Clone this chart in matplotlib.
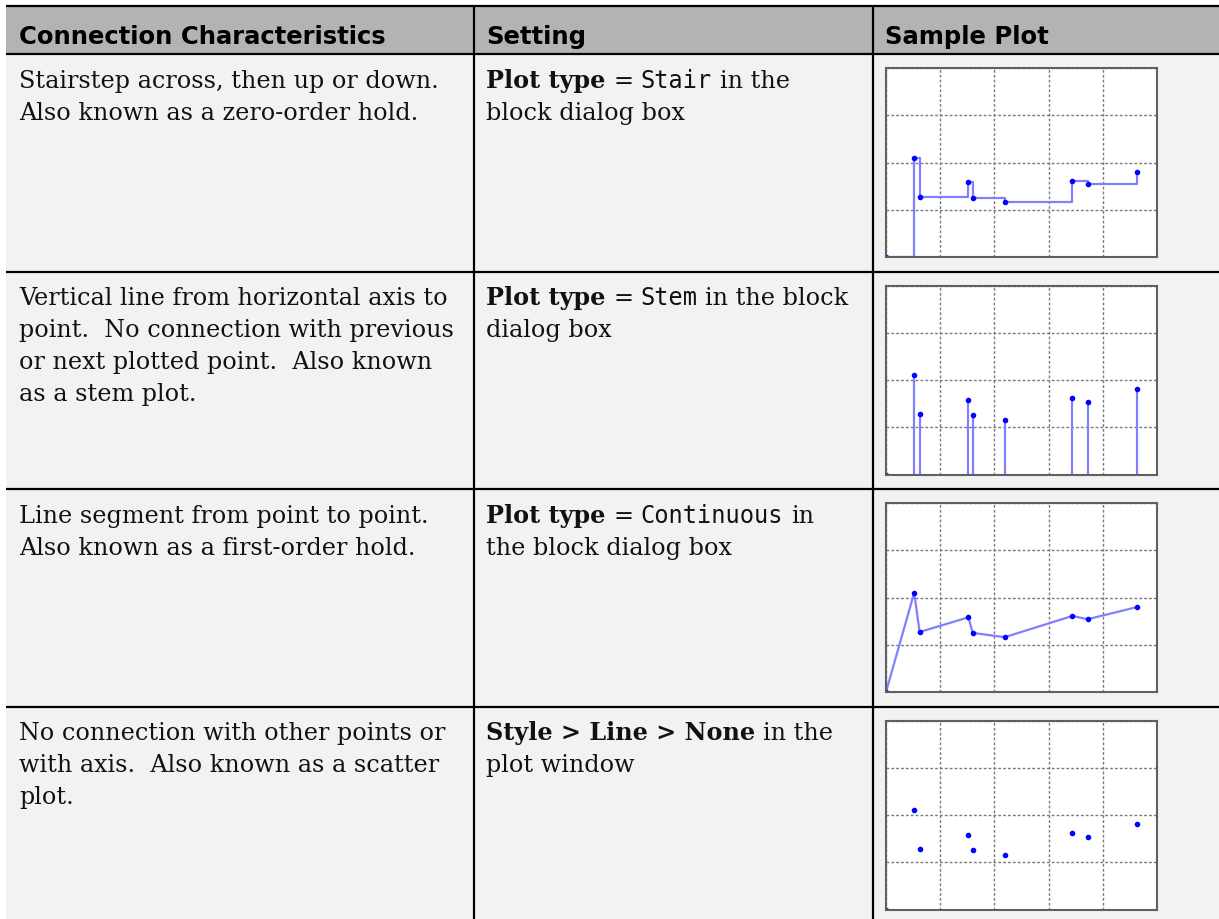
import matplotlib.pyplot as plt
from matplotlib.patches import Rectangle

# ---- table content ----
headers = ["Connection Characteristics", "Setting", "Sample Plot"]

descriptions = [
    ["Stairstep across, then up or down.",
     "Also known as a zero-order hold."],
    ["Vertical line from horizontal axis to",
     "point.  No connection with previous",
     "or next plotted point.  Also known",
     "as a stem plot."],
    ["Line segment from point to point.",
     "Also known as a first-order hold."],
    ["No connection with other points or",
     "with axis.  Also known as a scatter",
     "plot."],
]

# each line is a list of (text, style): b = bold serif, r = serif, m = mono
settings = [
    [[("Plot type", "b"), ("=", "r"), ("Stair", "m"), ("in the", "r")],
     [("block dialog box", "r")]],
    [[("Plot type", "b"), ("=", "r"), ("Stem", "m"), ("in the block", "r")],
     [("dialog box", "r")]],
    [[("Plot type", "b"), ("=", "r"), ("Continuous", "m"), ("in", "r")],
     [("the block dialog box", "r")]],
    [[("Style > Line > None", "b"), ("in the", "r")],
     [("plot window", "r")]],
]

plot_kinds = ["stair", "stem", "continuous", "scatter"]

# sample signal shown in every plot
sample_x = [0, 0.52, 0.62, 1.52, 1.60, 2.19, 3.44, 3.72, 4.64]
sample_y = [0, 2.10, 1.27, 1.58, 1.25, 1.16, 1.61, 1.54, 1.80]

# ---- layout (pixels) ----
W, H, DPI = 1219, 920, 100
LEFT = 6
COL_X = [474, 873]
TOP = 7
HEAD_BOTTOM = 55
ROW_TOPS = [55, 272.5, 490, 707.5]
TEXT_X = [19, 486, 885]
LINE_GAP = 32

HEAD_BG = "#b3b3b3"
BODY_BG = "#f2f2f2"
TXT = "#111111"
LINE_BLUE = "#8080ff"
DOT_BLUE = "#0000ff"

styles = {
    "r": dict(family="DejaVu Serif", fontsize=17.2, color=TXT),
    "b": dict(family="DejaVu Serif", fontsize=17.2, color=TXT, weight="bold"),
    "m": dict(family="DejaVu Sans Mono", fontsize=17, color=TXT),
}
head_style = dict(family="DejaVu Sans", fontsize=17.5, color="black", weight="bold")

fig = plt.figure(figsize=(W / DPI, H / DPI), dpi=DPI)
fig.patch.set_facecolor("white")
tab = fig.add_axes([0, 0, 1, 1])
tab.set_xlim(0, W)
tab.set_ylim(H, 0)
tab.axis("off")
renderer = fig.canvas.get_renderer()


def text_width(s, **kw):
    t = tab.text(0, 0, s, **kw)
    w = t.get_window_extent(renderer).width
    t.remove()
    return w


# backgrounds
tab.add_patch(Rectangle((LEFT, TOP), W - LEFT, HEAD_BOTTOM - TOP, color=HEAD_BG, lw=0))
tab.add_patch(Rectangle((LEFT, HEAD_BOTTOM), W - LEFT, H - HEAD_BOTTOM, color=BODY_BG, lw=0))

# rules
tab.hlines([TOP, HEAD_BOTTOM] + ROW_TOPS[1:], LEFT, W, color="black", lw=1.6)
tab.vlines(COL_X, TOP, H, color="black", lw=1.6)

# header
for x, h in zip(TEXT_X, headers):
    tab.text(x, 44, h, va="baseline", ha="left", **head_style)

space_w = text_width("n n", **styles["r"]) - text_width("nn", **styles["r"])

for i, top in enumerate(ROW_TOPS):
    y0 = top + 33
    for k, line in enumerate(descriptions[i]):
        tab.text(TEXT_X[0], y0 + k * LINE_GAP, line, va="baseline", ha="left", **styles["r"])
    for k, line in enumerate(settings[i]):
        x = TEXT_X[1]
        for s, st in line:
            tab.text(x, y0 + k * LINE_GAP, s, va="baseline", ha="left", **styles[st])
            x += text_width(s, **styles[st]) + space_w

    # sample plot
    bx, by, bw, bh = 886, top + 14, 271, 189
    ax = fig.add_axes([bx / W, 1 - (by + bh) / H, bw / W, bh / H])
    kind = plot_kinds[i]
    if kind == "stair":
        ax.plot(sample_x, sample_y, drawstyle="steps-post", color=LINE_BLUE, lw=1.6)
    elif kind == "stem":
        ax.vlines(sample_x, 0, sample_y, color=LINE_BLUE, lw=1.6)
    elif kind == "continuous":
        ax.plot(sample_x, sample_y, color=LINE_BLUE, lw=1.6)
    ax.plot(sample_x, sample_y, ls="none", marker="o", ms=3, color=DOT_BLUE, mec=DOT_BLUE)
    ax.set_xlim(0, 5)
    ax.set_ylim(0, 4)
    ax.set_xticks(range(6))
    ax.set_yticks(range(5))
    ax.tick_params(length=0, labelbottom=False, labelleft=False)
    ax.grid(True, color="#7a7a7a", lw=1.0, ls=(0, (2, 1.5)))
    ax.set_axisbelow(True)
    ax.set_facecolor("white")
    for sp in ax.spines.values():
        sp.set_color("#606060")
        sp.set_linewidth(1.5)

fig.savefig("out.png", dpi=DPI)
